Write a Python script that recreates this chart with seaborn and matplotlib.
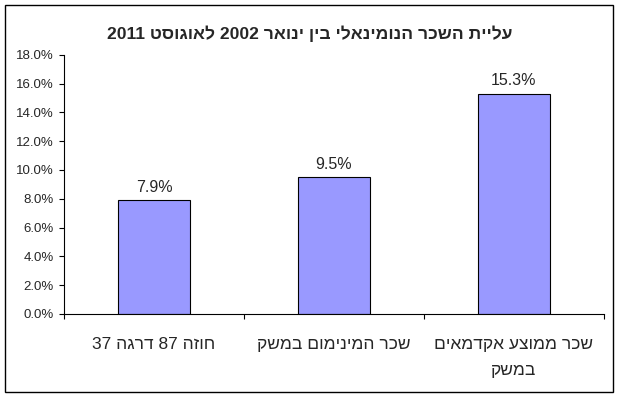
import numpy as np
import pandas as pd
import seaborn as sns
import matplotlib.pyplot as plt
from matplotlib.ticker import PercentFormatter

sns.set_style("white")
plt.rcParams['font.family'] = ['Liberation Sans', 'DejaVu Sans']

# data (logical Hebrew order)
title = "עליית השכר הנומינאלי בין ינואר 2002 לאוגוסט 2011"
categories = ["חוזה 87 דרגה 37", "שכר המינימום במשק", "שכר ממוצע אקדמאים\nבמשק"]
values = [0.079, 0.095, 0.153]
yticks = np.arange(0, 0.181, 0.02)


def vis(s):
    # matplotlib has no bidi support, so put RTL text into visual order
    out = []
    for line in s.split("\n"):
        words = line.split(" ")
        words = [w[::-1] if any('\u0590' <= c <= '\u05ff' for c in w) else w for w in words]
        out.append(" ".join(words[::-1]))
    return "\n".join(out)


df = pd.DataFrame({"cat": [vis(c) for c in categories], "val": values})

fig = plt.figure(figsize=(6.2, 3.98), dpi=100)
ax = fig.add_axes([64 / 620, 1 - 314 / 398, 540 / 620, (314 - 54.7) / 398])

sns.barplot(data=df, x="cat", y="val", color="#9999FF", saturation=1,
            edgecolor="black", linewidth=0.8, width=0.4, ax=ax)

ax.set_ylim(0, 0.18)
ax.set_yticks(yticks)
ax.yaxis.set_major_formatter(PercentFormatter(xmax=1, decimals=1))
ax.tick_params(axis="y", which="major", direction="out", length=3.6, width=0.8,
               pad=4, labelsize=9.5, left=True, color="black")

ax.set_xlim(-0.5, 2.5)
ax.set_xticks([-0.5, 0.5, 1.5, 2.5])
ax.set_xticklabels([])
ax.set_xticks([0, 1, 2], minor=True)
ax.set_xticklabels(df["cat"], minor=True, fontsize=12.5, linespacing=1.9)
ax.tick_params(axis="x", which="major", direction="out", length=3.6, width=0.8,
               bottom=True, color="black")
ax.tick_params(axis="x", which="minor", length=0, pad=16.5)
ax.set_xlabel("")
ax.set_ylabel("")

sns.despine(ax=ax)
for side in ["left", "bottom"]:
    ax.spines[side].set_color("black")
    ax.spines[side].set_linewidth(0.8)

ax.bar_label(ax.containers[0], labels=[f"{v * 100:.1f}%" for v in values],
             padding=4, fontsize=11.5)

fig.text(0.5, 1 - 34 / 398, vis(title), ha="center", va="center",
         fontsize=12.6, fontweight="bold")

fig.add_artist(plt.Rectangle((5 / 620, 6 / 398), 608 / 620, 387 / 398,
                             transform=fig.transFigure, fill=False,
                             edgecolor="black", linewidth=1))

fig.savefig("out.png", dpi=100)
